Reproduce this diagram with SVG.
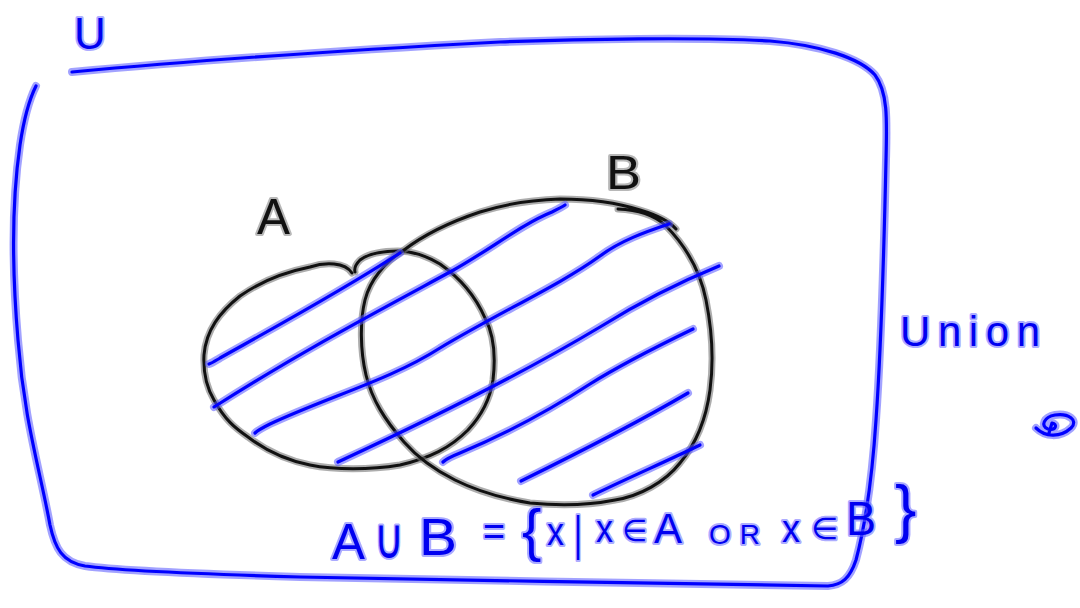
<svg xmlns="http://www.w3.org/2000/svg" width="1080" height="608" viewBox="0 0 1080 608">
<style>
.bh{fill:none;stroke:#5555ff;stroke-opacity:.55;stroke-width:8;stroke-linecap:round;stroke-linejoin:round}
.bc{fill:none;stroke:#0000ff;stroke-width:3.2;stroke-linecap:round;stroke-linejoin:round}
.kh{fill:none;stroke:#777;stroke-opacity:.6;stroke-width:7;stroke-linecap:round;stroke-linejoin:round}
.kc{fill:none;stroke:#111;stroke-width:3;stroke-linecap:round;stroke-linejoin:round}
.tb{font-family:"Liberation Sans",Arial,"DejaVu Sans",sans-serif;fill:#0000f0;stroke:#6666ff;stroke-opacity:.55;stroke-width:4;paint-order:stroke;stroke-linejoin:round}
.tk{font-family:"Liberation Sans",Arial,sans-serif;fill:#111;stroke:#888;stroke-opacity:.6;stroke-width:4;paint-order:stroke;stroke-linejoin:round}
</style>
<defs>
<path id="uni" d="M72,72 C200,60 350,50 500,42 C580,39 700,37 770,41 C820,45 860,58 875,75 C888,92 887,120 886,160 C884,250 881,350 876,420 C872,480 864,530 856,560 C850,578 842,585 828,586 C700,584 450,580 300,577 C200,574 120,571 85,566 C62,562 55,548 50,525 C40,470 24,420 18,340 C12,270 12,200 20,145 C24,118 30,98 36,86"/>
<path id="pa" d="M352,273 C345,262 325,262 310,267 C285,272 260,282 240,296 C220,312 206,330 204,355 C203,375 208,390 214,400 C225,420 235,428 248,437 C265,450 285,460 310,465 C335,470 370,470 400,465 C430,458 450,448 468,430 C482,415 490,400 493,380 C496,355 494,335 485,318 C475,295 460,278 440,264 C425,255 410,251 398,251 C380,251 368,254 360,260 C356,264 354,268 355,272"/>
<path id="pb" d="M618,209 C640,210 655,216 665,225 C685,245 700,270 706,300 C712,330 714,360 710,390 C706,420 695,445 680,463 C665,482 640,496 615,500 C590,505 560,506 530,503 C500,498 475,490 455,480 C435,470 418,458 404,442 C385,420 372,400 366,375 C360,350 360,320 365,300 C370,280 385,262 404,250 C425,234 450,222 480,212 C505,204 530,200 560,199 C590,199 615,202 640,210 C660,216 670,222 676,229"/>
<path id="h1" d="M209,364 C212,363 215,361 220,358 C270,330 340,292 400,253"/>
<path id="h2" d="M214,407 C300,352 380,310 450,272 C490,250 520,225 552,212 C558,209 562,207 565,205"/>
<path id="h3" d="M255,433 C258,430 262,428 270,424 C330,396 390,380 440,348 C500,312 560,285 600,256 C620,241 645,232 669,224"/>
<path id="h4" d="M338,462 C420,424 520,375 600,327 C640,302 680,282 719,266"/>
<path id="h5" d="M443,462 C446,459 450,457 460,453 C510,432 550,410 590,384 C625,362 660,345 693,329"/>
<path id="h6" d="M521,481 C580,452 635,424 688,393"/>
<path id="h7" d="M593,495 C630,477 665,462 700,445"/>
<path id="sq" d="M1036,428 C1045,437 1060,438 1071,428 C1079,420 1068,413 1055,415 C1044,417 1040,426 1048,429 C1056,431 1058,424 1052,423 L1049,433"/>
</defs>

<g id="universe">
<use href="#uni" class="bh"/><use href="#uni" class="bc"/>
<text class="tb" x="74" y="49" font-size="44">U</text>
</g>

<g id="setA">
<use href="#pa" class="kh"/><use href="#pa" class="kc"/>
<text class="tk" x="257" y="234" font-size="50" textLength="33" lengthAdjust="spacingAndGlyphs">A</text>
</g>

<g id="setB">
<use href="#pb" class="kh"/><use href="#pb" class="kc"/>
<text class="tk" x="606" y="189" font-size="48" textLength="35" lengthAdjust="spacingAndGlyphs">B</text>
</g>

<g id="hatching">
<use href="#h1" class="bh"/><use href="#h1" class="bc"/>
<use href="#h2" class="bh"/><use href="#h2" class="bc"/>
<use href="#h3" class="bh"/><use href="#h3" class="bc"/>
<use href="#h4" class="bh"/><use href="#h4" class="bc"/>
<use href="#h5" class="bh"/><use href="#h5" class="bc"/>
<use href="#h6" class="bh"/><use href="#h6" class="bc"/>
<use href="#h7" class="bh"/><use href="#h7" class="bc"/>
</g>

<g id="union-label">
<text class="tb" x="900" y="346" font-size="42" textLength="140" lengthAdjust="spacing">Union</text>
</g>

<g id="scribble">
<use href="#sq" class="bh"/><use href="#sq" class="bc"/>
</g>

<g id="formula">
<text class="tb" x="332" y="559" font-size="50" textLength="33" lengthAdjust="spacingAndGlyphs">A</text>
<text class="tb" x="374" y="558" font-size="56" textLength="30" lengthAdjust="spacingAndGlyphs">∪</text>
<text class="tb" x="419" y="555" font-size="52" textLength="38" lengthAdjust="spacingAndGlyphs">B</text>
<text class="tb" x="483" y="545" font-size="40" textLength="22" lengthAdjust="spacingAndGlyphs">=</text>
<text class="tb" x="522" y="550" font-size="58">{</text>
<text class="tb" x="547" y="545" font-size="38" textLength="17" lengthAdjust="spacingAndGlyphs">x</text>
<text class="tb" x="574" y="550" font-size="48" textLength="8" lengthAdjust="spacingAndGlyphs">|</text>
<text class="tb" x="596" y="542" font-size="38" textLength="17" lengthAdjust="spacingAndGlyphs">x</text>
<text class="tb" x="622" y="541" font-size="30" textLength="25" lengthAdjust="spacingAndGlyphs">∈</text>
<text class="tb" x="654" y="543" font-size="42" textLength="28" lengthAdjust="spacingAndGlyphs">A</text>
<text class="tb" x="709" y="544" font-size="28" textLength="51" lengthAdjust="spacing">OR</text>
<text class="tb" x="782" y="542" font-size="38" textLength="18" lengthAdjust="spacingAndGlyphs">x</text>
<text class="tb" x="811" y="539" font-size="30" textLength="27" lengthAdjust="spacingAndGlyphs">∈</text>
<text class="tb" x="846" y="535" font-size="48" textLength="30" lengthAdjust="spacingAndGlyphs">B</text>
<text class="tb" x="895" y="531" font-size="64">}</text>
</g>
</svg>
